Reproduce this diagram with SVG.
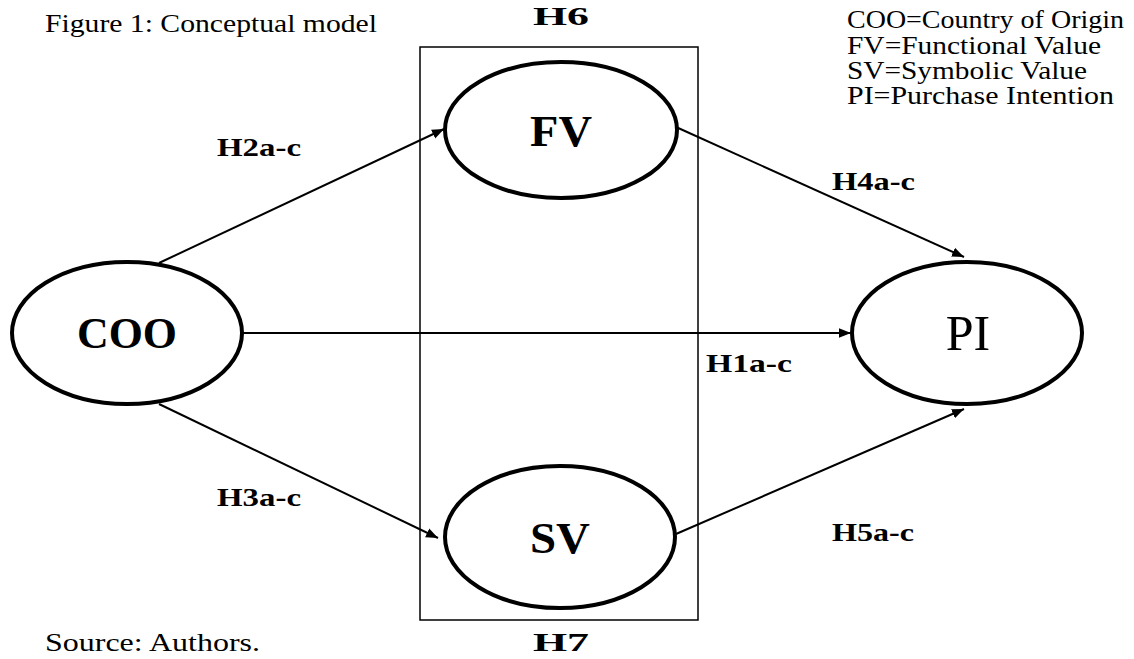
<svg xmlns="http://www.w3.org/2000/svg" width="1134" height="659" viewBox="0 0 1134 659">
<defs>
<style>
.t{font-family:"Liberation Serif","DejaVu Serif",serif;fill:#000}
.lbl{font-size:26px;font-weight:bold}
.cap{font-size:25px}
.node{fill:#fff;stroke:#000;stroke-width:4}
.nt{font-weight:bold;text-anchor:middle}
.e{stroke:#000;stroke-width:2;fill:none;marker-end:url(#ah)}
</style>
<marker id="ah" viewBox="0 0 10 10" refX="10" refY="5" markerWidth="6" markerHeight="6" orient="auto" markerUnits="strokeWidth">
<path d="M0,1 L10,5 L0,9 Z" fill="#000"/>
</marker>
</defs>
<rect width="1134" height="659" fill="#fff"/>
<text class="t cap" x="45" y="32" textLength="332" lengthAdjust="spacingAndGlyphs">Figure 1: Conceptual model</text>
<g class="t cap">
<text x="847" y="28" textLength="277" lengthAdjust="spacingAndGlyphs">COO=Country of Origin</text>
<text x="847" y="54" textLength="254" lengthAdjust="spacingAndGlyphs">FV=Functional Value</text>
<text x="847" y="79" textLength="240" lengthAdjust="spacingAndGlyphs">SV=Symbolic Value</text>
<text x="847" y="104" textLength="267" lengthAdjust="spacingAndGlyphs">PI=Purchase Intention</text>
</g>
<text class="t cap" x="45" y="651" textLength="215" lengthAdjust="spacingAndGlyphs">Source: Authors.</text>
<g id="box">
<rect x="420" y="47" width="278" height="573" fill="none" stroke="#000" stroke-width="1.5"/>
<text class="t lbl" x="533" y="25" textLength="56" lengthAdjust="spacingAndGlyphs">H6</text>
<text class="t lbl" x="533" y="651" textLength="56" lengthAdjust="spacingAndGlyphs">H7</text>
</g>
<g id="connectors">
<line class="e" x1="242" y1="333" x2="851" y2="333"/>
<line class="e" x1="159" y1="263" x2="444" y2="129"/>
<line class="e" x1="676" y1="127" x2="964" y2="257"/>
<line class="e" x1="159" y1="404" x2="438" y2="538"/>
<line class="e" x1="676" y1="534" x2="964" y2="409"/>
<text class="t lbl" x="217" y="156" textLength="84" lengthAdjust="spacingAndGlyphs">H2a-c</text>
<text class="t lbl" x="832" y="190" textLength="83" lengthAdjust="spacingAndGlyphs">H4a-c</text>
<text class="t lbl" x="706" y="372" textLength="86" lengthAdjust="spacingAndGlyphs">H1a-c</text>
<text class="t lbl" x="217" y="506" textLength="84" lengthAdjust="spacingAndGlyphs">H3a-c</text>
<text class="t lbl" x="832" y="541" textLength="82" lengthAdjust="spacingAndGlyphs">H5a-c</text>
</g>
<g id="COO">
<ellipse class="node" cx="127" cy="333" rx="115" ry="71"/>
<text class="t nt" x="127" y="348" font-size="44" textLength="100" lengthAdjust="spacingAndGlyphs">COO</text>
</g>
<g id="FV">
<ellipse class="node" cx="561" cy="130" rx="116" ry="68"/>
<text class="t nt" x="561" y="146" font-size="44" textLength="62" lengthAdjust="spacingAndGlyphs">FV</text>
</g>
<g id="SV">
<ellipse class="node" cx="560" cy="537" rx="115" ry="71"/>
<text class="t nt" x="560" y="553" font-size="44" textLength="60" lengthAdjust="spacingAndGlyphs">SV</text>
</g>
<g id="PI">
<ellipse class="node" cx="967" cy="333" rx="115" ry="71"/>
<text class="t" x="968" y="350" font-size="50" text-anchor="middle">PI</text>
</g>
</svg>
